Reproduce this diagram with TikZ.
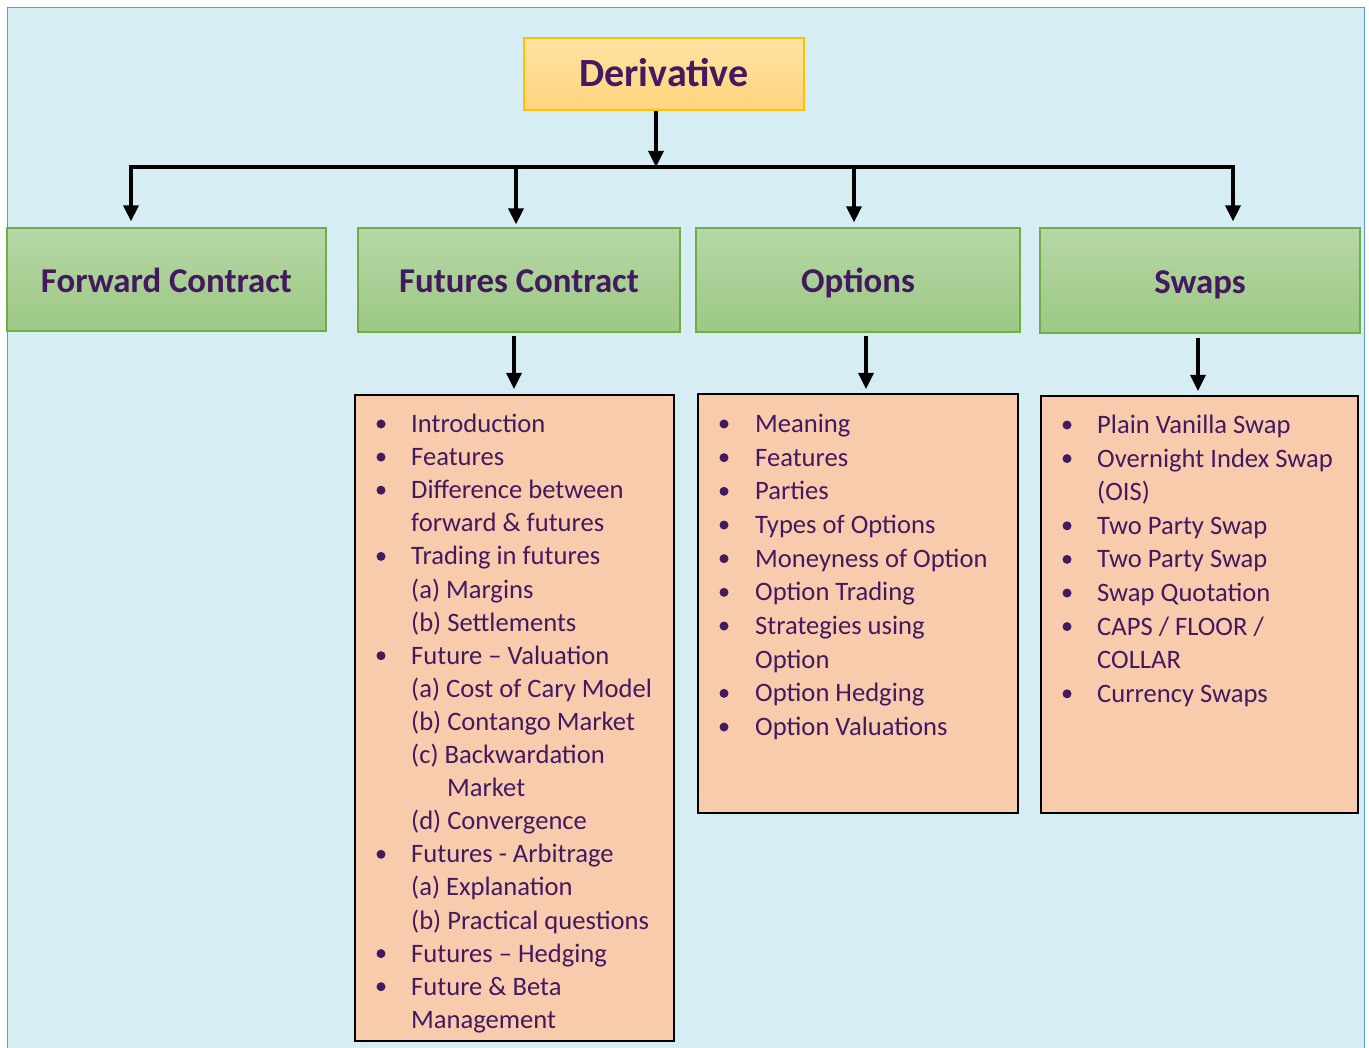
\documentclass[tikz,border=0pt]{standalone}
\usepackage{fontspec}
\setmainfont{Carlito}
\usetikzlibrary{arrows.meta,calc,positioning}

\definecolor{bgblue}{HTML}{D6EDF3}
\definecolor{bgline}{HTML}{5B9BD5}
\definecolor{inkpurple}{HTML}{43195F}
\definecolor{goldtop}{HTML}{FFE3A2}
\definecolor{goldbot}{HTML}{FFD47E}
\definecolor{goldline}{HTML}{FFC000}
\definecolor{greentop}{HTML}{B6D7A6}
\definecolor{greenbot}{HTML}{9CC884}
\definecolor{greenline}{HTML}{70AD47}
\definecolor{peach}{HTML}{F8CBAD}

\tikzset{
  headbox/.style={draw=goldline, line width=1.2pt, top color=goldtop, bottom color=goldbot,
    text=inkpurple, font=\fontsize{40}{46}\selectfont\bfseries, text height=26pt, text depth=0pt},
  typebox/.style={draw=greenline, line width=1.2pt, top color=greentop, bottom color=greenbot,
    text=inkpurple, font=\fontsize{34.8}{40}\selectfont\bfseries, text height=26pt, text depth=0pt},
  listbox/.style={draw=black, line width=2pt, fill=peach},
  listtext/.style={anchor=base west, inner sep=0pt, text=inkpurple, font=\fontsize{26.6}{31}\selectfont},
  arr/.style={line width=3.2pt, -{Triangle[length=16pt,width=15pt]}},
}

\begin{document}
\begin{tikzpicture}[x=1pt,y=-1pt]
  \useasboundingbox (0,0) rectangle (1369,1048);

  % ---------- background panel ----------
  \fill[white] (0,0) rectangle (1369,1048);
  \draw[bgline, fill=bgblue, line width=1pt] (7,8) rectangle (1364,1070);

  % ---------- root ----------
  \node[headbox, minimum width=280pt, minimum height=72pt] (deriv) at (664,74) {Derivative};

  % ---------- the four kinds ----------
  \node[typebox, minimum width=319pt, minimum height=103pt] (fwd) at (166.5,279.5) {Forward Contract};
  \node[typebox, minimum width=322pt, minimum height=104pt] (fut) at (519,280) {Futures Contract};
  \node[typebox, minimum width=324pt, minimum height=104pt] (opt) at (858,280) {Options};
  \node[typebox, minimum width=320pt, minimum height=105pt] (swp) at (1200,280.5) {Swaps};

  % ---------- topic boxes ----------
  \node[listbox, minimum width=319pt, minimum height=646pt] (futlist) at (514.5,718) {};
  \node[listbox, minimum width=320pt, minimum height=419pt] (optlist) at (858,603.5) {};
  \node[listbox, minimum width=317pt, minimum height=417pt] (swplist) at (1199.5,604.5) {};

  % ---------- connectors ----------
  \coordinate (bus) at (656,167);
  \coordinate (busL) at (131,167);
  \coordinate (busR) at (1233,167);
  \coordinate (busF) at (516,167);
  \coordinate (busO) at (854,167);

  \draw[arr] (deriv.south -| bus) -- (bus);
  \draw[arr, shorten >=6pt] (bus) -- (busL) -- (busL |- fwd.north);
  \draw[arr, shorten >=6pt] (bus) -- (busR) -- (busR |- swp.north);
  \draw[arr, shorten >=3pt] (busF) -- (busF |- fut.north);
  \draw[arr, shorten >=5pt] (busO) -- (busO |- opt.north);

  \draw[arr, shorten <=3pt, shorten >=5pt] ([xshift=-5pt]fut.south) -- ([xshift=-0.5pt]futlist.north);
  \draw[arr, shorten <=3pt, shorten >=4pt] ([xshift=8pt]opt.south) -- ([xshift=8pt]optlist.north);
  \draw[arr, shorten <=4pt, shorten >=4pt] ([xshift=-2pt]swp.south) -- ([xshift=-1.5pt]swplist.north);

  % ---------- futures topics ----------
  \foreach \kind/\txt [count=\i from 0] in {b/{Introduction}, b/{Features}, b/{Difference between},
      c/{forward \& futures}, b/{Trading in futures}, c/{(a) Margins}, c/{(b) Settlements},
      b/{Future – Valuation}, c/{(a) Cost of Cary Model}, c/{(b) Contango Market},
      c/{(c) Backwardation}, i/{Market}, c/{(d) Convergence}, b/{Futures - Arbitrage},
      c/{(a) Explanation}, c/{(b) Practical questions}, b/{Futures – Hedging},
      b/{Future \& Beta}, c/{Management}} {
    \pgfmathsetmacro{\ty}{432.5+\i*33.1}
    \if\kind b \fill[inkpurple] (381,\ty-8.5) circle (4.5pt); \fi
    \if\kind i
      \node[listtext] (fut\i) at (447,\ty) {\txt};
    \else
      \node[listtext] (fut\i) at (411,\ty) {\txt};
    \fi
  }

  % ---------- options topics ----------
  \foreach \kind/\txt [count=\i from 0] in {b/{Meaning}, b/{Features}, b/{Parties},
      b/{Types of Options}, b/{Moneyness of Option}, b/{Option Trading}, b/{Strategies using},
      c/{Option}, b/{Option Hedging}, b/{Option Valuations}} {
    \pgfmathsetmacro{\ty}{432.5+\i*33.67}
    \if\kind b \fill[inkpurple] (724,\ty-8.5) circle (4.5pt); \fi
    \node[listtext] (opt\i) at (755,\ty) {\txt};
  }

  % ---------- swaps topics ----------
  \foreach \kind/\txt [count=\i from 0] in {b/{Plain Vanilla Swap}, b/{Overnight Index Swap},
      c/{(OIS)}, b/{Two Party Swap}, b/{Two Party Swap}, b/{Swap Quotation},
      b/{CAPS / FLOOR /}, c/{COLLAR}, b/{Currency Swaps}} {
    \pgfmathsetmacro{\ty}{433.5+\i*33.6}
    \if\kind b \fill[inkpurple] (1067,\ty-8.5) circle (4.5pt); \fi
    \node[listtext] (swp\i) at (1097,\ty) {\txt};
  }
\end{tikzpicture}
\end{document}
